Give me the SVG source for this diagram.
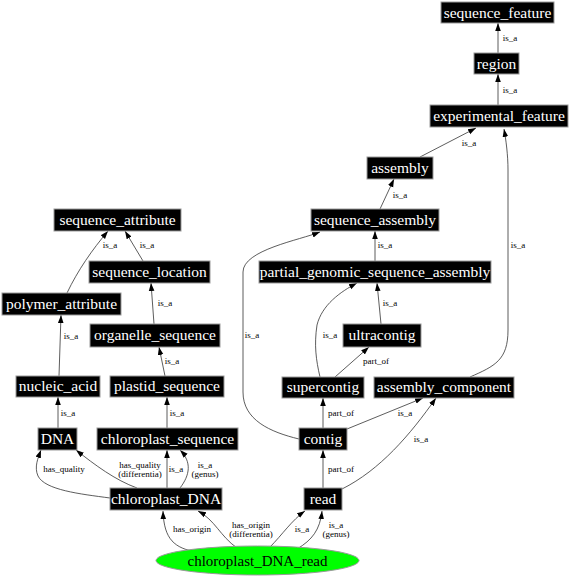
<svg xmlns="http://www.w3.org/2000/svg" width="572" height="576" viewBox="0 0 572 576">
<style>
.n rect{fill:#000;stroke:#999;stroke-width:1}
.n text{fill:#fff;font-family:"Liberation Serif",serif;font-size:15.5px;text-anchor:middle}
.e path{fill:none;stroke:#333;stroke-width:0.8}
.l{font-family:"Liberation Serif",serif;font-size:9px;fill:#000;text-anchor:middle}
</style>
<defs>
<marker id="a" viewBox="0 0 10 10" refX="10" refY="5" markerWidth="8" markerHeight="8" markerUnits="userSpaceOnUse" orient="auto"><path d="M0,1.5L10,5L0,8.5z" fill="#000"/></marker>
</defs>
<rect width="572" height="576" fill="#fff"/>
<g id="edges" class="e">
<path marker-end="url(#a)" d="M498,53L498,23"/>
<path marker-end="url(#a)" d="M498,105L498,74"/>
<path marker-end="url(#a)" d="M420,157L476,128"/>
<path marker-end="url(#a)" d="M470,377C495,366 508,360 508,330L508,170C508,155 506,140 504,129"/>
<path marker-end="url(#a)" d="M380,209L394,179"/>
<path marker-end="url(#a)" d="M375,261L375,231"/>
<path marker-end="url(#a)" d="M381,324L377,283"/>
<path marker-end="url(#a)" d="M320,377C316,360 314,345 317,325C322,305 340,292 357,283"/>
<path marker-end="url(#a)" d="M335,377L369,347"/>
<path marker-end="url(#a)" d="M299,439C270,432 243,420 243,392L243,272C243,250 300,240 320,232"/>
<path marker-end="url(#a)" d="M323,428L323,398"/>
<path marker-end="url(#a)" d="M347,429L423,398"/>
<path marker-end="url(#a)" d="M323,488L323,450"/>
<path marker-end="url(#a)" d="M342,489C380,470 410,435 436,398"/>
<path marker-end="url(#a)" d="M270,547C282,535 292,520 305,511"/>
<path marker-end="url(#a)" d="M297,549C312,540 320,530 322,511"/>
<path marker-end="url(#a)" d="M196,552C175,548 164,540 163,511"/>
<path marker-end="url(#a)" d="M237,548C220,536 215,520 198,511"/>
<path marker-end="url(#a)" d="M110,498C80,494 45,490 38,476C34,467 38,458 41,450"/>
<path marker-end="url(#a)" d="M137,488C115,480 95,465 76,450"/>
<path marker-end="url(#a)" d="M167,488L167,450"/>
<path marker-end="url(#a)" d="M180,488C190,475 192,462 180,450"/>
<path marker-end="url(#a)" d="M58,428L58,397"/>
<path marker-end="url(#a)" d="M167,428L167,397"/>
<path marker-end="url(#a)" d="M165,376L159,347"/>
<path marker-end="url(#a)" d="M154,324L151,283"/>
<path marker-end="url(#a)" d="M59,376L61,315"/>
<path marker-end="url(#a)" d="M67,293C78,270 92,250 108,231"/>
<path marker-end="url(#a)" d="M143,261L125,231"/>
<text class="l" x="510" y="41">is_a</text>
<text class="l" x="510" y="93">is_a</text>
<text class="l" x="469" y="146">is_a</text>
<text class="l" x="518" y="248">is_a</text>
<text class="l" x="400" y="198">is_a</text>
<text class="l" x="385" y="248">is_a</text>
<text class="l" x="390" y="306">is_a</text>
<text class="l" x="330" y="338">is_a</text>
<text class="l" x="376" y="364">part_of</text>
<text class="l" x="252" y="338">is_a</text>
<text class="l" x="341" y="416">part_of</text>
<text class="l" x="405" y="416">is_a</text>
<text class="l" x="341" y="472">part_of</text>
<text class="l" x="421" y="442">is_a</text>
<text class="l" x="302" y="532">is_a</text>
<text class="l" x="336" y="528">is_a</text>
<text class="l" x="336" y="537">(genus)</text>
<text class="l" x="192" y="532">has_origin</text>
<text class="l" x="251" y="528">has_origin</text>
<text class="l" x="251" y="537">(differentia)</text>
<text class="l" x="64" y="472">has_quality</text>
<text class="l" x="140" y="468">has_quality</text>
<text class="l" x="140" y="477">(differentia)</text>
<text class="l" x="176" y="472">is_a</text>
<text class="l" x="205" y="468">is_a</text>
<text class="l" x="205" y="477">(genus)</text>
<text class="l" x="68" y="416">is_a</text>
<text class="l" x="177" y="416">is_a</text>
<text class="l" x="172" y="364">is_a</text>
<text class="l" x="165" y="306">is_a</text>
<text class="l" x="71" y="339">is_a</text>
<text class="l" x="110" y="248">is_a</text>
<text class="l" x="147" y="248">is_a</text>
</g>
<g id="sequence_feature" class="n"><rect x="441" y="2" width="113" height="21"/><text x="497.5" y="17.5">sequence_feature</text></g>
<g id="region" class="n"><rect x="474" y="53" width="45" height="21"/><text x="496.5" y="68.5">region</text></g>
<g id="experimental_feature" class="n"><rect x="430" y="105" width="138" height="22"/><text x="499" y="121">experimental_feature</text></g>
<g id="assembly" class="n"><rect x="367" y="157" width="66" height="22"/><text x="400" y="173">assembly</text></g>
<g id="sequence_assembly" class="n"><rect x="311" y="209" width="128" height="22"/><text x="375" y="225">sequence_assembly</text></g>
<g id="partial_genomic_sequence_assembly" class="n"><rect x="259" y="261" width="232" height="22"/><text x="375" y="277">partial_genomic_sequence_assembly</text></g>
<g id="ultracontig" class="n"><rect x="343" y="324" width="78" height="23"/><text x="382" y="340">ultracontig</text></g>
<g id="supercontig" class="n"><rect x="282" y="377" width="82" height="21"/><text x="323" y="392">supercontig</text></g>
<g id="assembly_component" class="n"><rect x="374" y="377" width="140" height="21"/><text x="444" y="392">assembly_component</text></g>
<g id="contig" class="n"><rect x="299" y="428" width="48" height="22"/><text x="323" y="444">contig</text></g>
<g id="read" class="n"><rect x="304" y="488" width="38" height="22"/><text x="323" y="504">read</text></g>
<g id="chloroplast_DNA_read"><ellipse cx="257.5" cy="560.5" rx="101.5" ry="14.5" fill="#00ff00" stroke="#999"/><text x="257.5" y="565.5" font-family="Liberation Serif,serif" font-size="15" text-anchor="middle">chloroplast_DNA_read</text></g>
<g id="chloroplast_DNA" class="n"><rect x="110" y="488" width="112" height="22"/><text x="166" y="504">chloroplast_DNA</text></g>
<g id="chloroplast_sequence" class="n"><rect x="97" y="428" width="141" height="22"/><text x="167.5" y="444">chloroplast_sequence</text></g>
<g id="DNA" class="n"><rect x="38" y="428" width="39" height="22"/><text x="57.5" y="444">DNA</text></g>
<g id="nucleic_acid" class="n"><rect x="16" y="376" width="84" height="21"/><text x="58" y="391">nucleic_acid</text></g>
<g id="plastid_sequence" class="n"><rect x="110" y="376" width="114" height="21"/><text x="167" y="391">plastid_sequence</text></g>
<g id="organelle_sequence" class="n"><rect x="90" y="324" width="130" height="23"/><text x="155" y="340">organelle_sequence</text></g>
<g id="polymer_attribute" class="n"><rect x="2" y="293" width="119" height="22"/><text x="61.5" y="309">polymer_attribute</text></g>
<g id="sequence_location" class="n"><rect x="89" y="261" width="121" height="22"/><text x="149.5" y="277">sequence_location</text></g>
<g id="sequence_attribute" class="n"><rect x="54" y="209" width="127" height="22"/><text x="117.5" y="225">sequence_attribute</text></g>
</svg>
